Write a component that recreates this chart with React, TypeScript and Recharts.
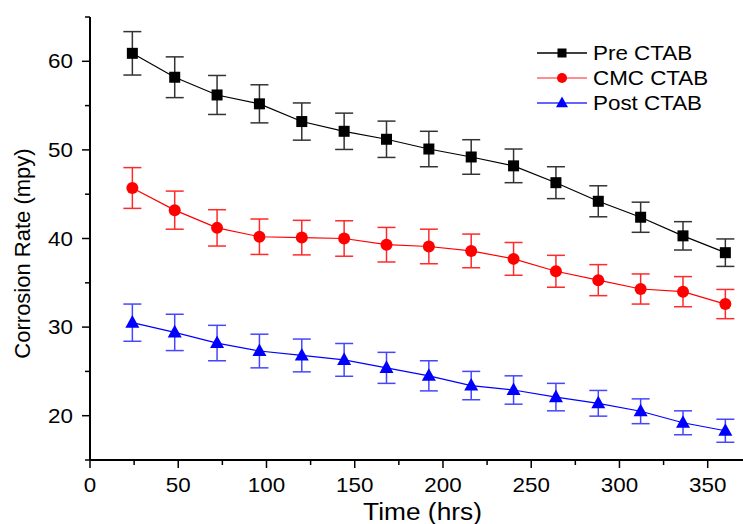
import { LineChart, Line, XAxis, YAxis, ErrorBar, Legend, Label } from "recharts";

const hours = [24, 48, 72, 96, 120, 144, 168, 192, 216, 240, 264, 288, 312, 336, 360];

const preCtab = [60.9, 58.2, 56.2, 55.2, 53.2, 52.1, 51.2, 50.1, 49.2, 48.2, 46.3, 44.2, 42.4, 40.3, 38.4];
const preErr = [2.45, 2.3, 2.2, 2.15, 2.1, 2.05, 2.05, 2.0, 1.95, 1.9, 1.8, 1.75, 1.7, 1.6, 1.55];

const cmcCtab = [45.7, 43.2, 41.2, 40.2, 40.1, 40.0, 39.3, 39.1, 38.6, 37.7, 36.3, 35.3, 34.3, 34.0, 32.6];
const cmcErr = [2.3, 2.15, 2.05, 2.0, 1.95, 2.0, 1.95, 1.95, 1.9, 1.85, 1.8, 1.75, 1.7, 1.7, 1.65];

const postCtab = [30.5, 29.4, 28.2, 27.3, 26.8, 26.3, 25.4, 24.5, 23.4, 22.9, 22.1, 21.4, 20.5, 19.2, 18.3];
const postErr = [2.1, 2.05, 2.0, 1.9, 1.85, 1.85, 1.75, 1.7, 1.6, 1.6, 1.55, 1.45, 1.4, 1.35, 1.3];

const xTicks = [0, 25, 50, 75, 100, 125, 150, 175, 200, 225, 250, 275, 300, 325, 350];
const yTicks = [15, 20, 25, 30, 35, 40, 45, 50, 55, 60, 65];

const FONT = "'Liberation Sans', Arial, sans-serif";
// the original's text is a bit wider than Arial
const STRETCH = 1.12;

const series = [
  { key: "pre", err: "preErr", name: "Pre CTAB", color: "#000000", errColor: "#333333", legendLine: "#000000", shape: "square" },
  { key: "cmc", err: "cmcErr", name: "CMC CTAB", color: "#ff0000", errColor: "#ff2a2a", legendLine: "#ff6a6a", shape: "circle" },
  { key: "post", err: "postErr", name: "Post CTAB", color: "#0000ff", errColor: "#4646ff", legendLine: "#3030ff", shape: "triangle" },
];

const data = hours.map((h, i) => ({
  hours: h,
  pre: preCtab[i],
  preErr: preErr[i],
  cmc: cmcCtab[i],
  cmcErr: cmcErr[i],
  post: postCtab[i],
  postErr: postErr[i],
}));

function WideText({ x, y, size, anchor = "start", children }: any) {
  return (
    <text
      transform={`translate(${x},${y}) scale(${STRETCH},1)`}
      textAnchor={anchor}
      fontSize={size}
      fontFamily={FONT}
      fill="#000"
    >
      {children}
    </text>
  );
}

function Marker({ cx, cy, shape, color, size }: { cx: number; cy: number; shape: string; color: string; size: number }) {
  if (shape === "square") {
    return <rect x={cx - size / 2} y={cy - size / 2} width={size} height={size} fill={color} />;
  }
  if (shape === "circle") {
    return <circle cx={cx} cy={cy} r={size / 2} fill={color} />;
  }
  const h = size * 0.9;
  return (
    <polygon
      points={`${cx},${cy - h * 0.6} ${cx - size / 2},${cy + h * 0.4} ${cx + size / 2},${cy + h * 0.4}`}
      fill={color}
    />
  );
}

const YTick = (props: any) => {
  const { x, y, payload } = props;
  const major = payload.value % 10 === 0;
  return (
    <g>
      <line x1={x} x2={x - (major ? 8 : 5)} y1={y} y2={y} stroke="#000" strokeWidth={1.5} />
      {major && (
        <WideText x={x - 17} y={y + 7} size={20} anchor="end">
          {payload.value}
        </WideText>
      )}
    </g>
  );
};

const XTick = (props: any) => {
  const { x, y, payload } = props;
  const major = payload.value % 50 === 0;
  return (
    <g>
      <line x1={x} x2={x} y1={y} y2={y + (major ? 8 : 5)} stroke="#000" strokeWidth={1.5} />
      {major && (
        <WideText x={x} y={y + 32} size={20} anchor="middle">
          {payload.value}
        </WideText>
      )}
    </g>
  );
};

const LegendBox = () => (
  <svg width={213} height={80}>
    {series.map((s, i) => {
      const cy = 13 + i * 25;
      return (
        <g key={s.key}>
          <line x1={7} x2={57} y1={cy} y2={cy} stroke={s.legendLine} strokeWidth={1.5} />
          <Marker cx={32} cy={cy} shape={s.shape} color={s.color} size={s.shape === "triangle" ? 12 : s.shape === "circle" ? 10 : 9} />
          <WideText x={63} y={cy + 7} size={20}>
            {s.name}
          </WideText>
        </g>
      );
    })}
  </svg>
);

export default function App() {
  return (
    <div style={{ position: "absolute", left: 0, top: 0, width: 743, height: 524, background: "#fff" }}>
      <LineChart width={743} height={524} data={data} margin={{ top: 17, right: 0, bottom: 0, left: 0 }}>
        <XAxis
          type="number"
          dataKey="hours"
          domain={[0, 370]}
          ticks={xTicks}
          interval={0}
          tickSize={0}
          tickMargin={0}
          tickLine={false}
          tick={XTick}
          height={64}
          axisLine={{ stroke: "#000", strokeWidth: 2 }}
          allowDataOverflow
        >
          <Label
            content={(p: any) => (
              <WideText x={p.viewBox.x + p.viewBox.width / 2 + 6} y={p.viewBox.y + 60} size={23.5} anchor="middle">
                Time (hrs)
              </WideText>
            )}
          />
        </XAxis>
        <YAxis
          type="number"
          domain={[15, 65]}
          ticks={yTicks}
          interval={0}
          tickSize={0}
          tickMargin={0}
          tickLine={false}
          tick={YTick}
          width={90}
          axisLine={{ stroke: "#000", strokeWidth: 2 }}
          allowDataOverflow
        >
          <Label
            content={(p: any) => {
              const lx = p.viewBox.x + 30;
              const ly = p.viewBox.y + p.viewBox.height / 2 + 15;
              return (
                <text
                  x={lx}
                  y={ly}
                  textAnchor="middle"
                  fontSize={22}
                  fontFamily={FONT}
                  fill="#000"
                  transform={`rotate(-90, ${lx}, ${ly})`}
                >
                  Corrosion Rate (mpy)
                </text>
              );
            }}
          />
        </YAxis>
        <Legend
          layout="horizontal"
          verticalAlign="middle"
          align="center"
          wrapperStyle={{ left: 530, top: 40, width: 213, height: 80 }}
          content={LegendBox}
        />
        {series.map((s) => (
          <Line
            key={s.key}
            type="linear"
            dataKey={s.key}
            name={s.name}
            stroke={s.color}
            strokeWidth={1.2}
            isAnimationActive={false}
            dot={(p: any) => (
              <Marker
                key={`${s.key}-${p.index}`}
                cx={p.cx}
                cy={p.cy}
                shape={s.shape}
                color={s.color}
                size={s.shape === "triangle" ? 14 : s.shape === "circle" ? 12 : 11}
              />
            )}
            activeDot={false}
          >
            <ErrorBar dataKey={s.err} width={9} stroke={s.errColor} strokeWidth={1.5} direction="y" />
          </Line>
        ))}
      </LineChart>
    </div>
  );
}
